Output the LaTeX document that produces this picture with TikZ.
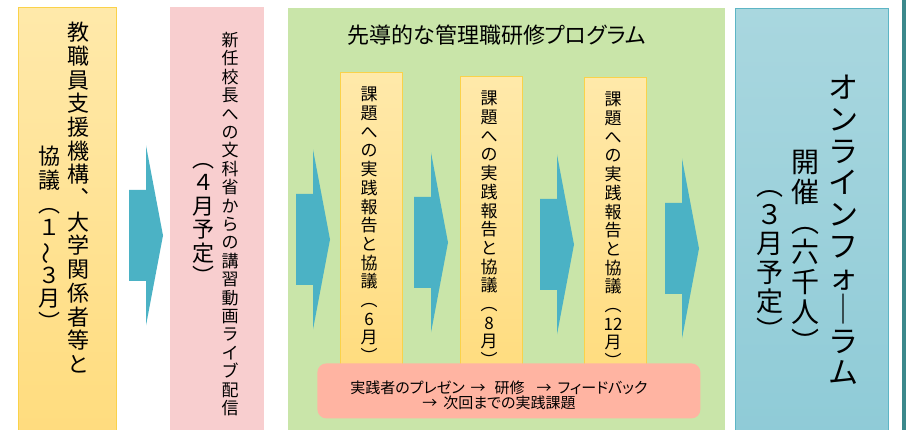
\documentclass[tikz,border=0pt]{standalone}
\usepackage{fontspec}
\usepackage{graphicx}
\setmainfont{Noto Sans CJK JP}
\newfontfamily\propfont[RawFeature=+palt]{Noto Sans CJK JP}
\newcommand{\moji}[2]{\fontsize{#1pt}{#2pt}\selectfont}
\definecolor{kiiroA}{HTML}{FFE9AA}
\definecolor{kiiroB}{HTML}{FFDC7E}
\definecolor{kiiroSen}{HTML}{FAD24A}
\definecolor{momo}{HTML}{F8CECF}
\definecolor{midori}{HTML}{C9E5A9}
\definecolor{yaji}{HTML}{4BB2C5}
\definecolor{sake}{HTML}{FFB4A2}
\definecolor{aoA}{HTML}{A9D7DF}
\definecolor{aoB}{HTML}{8FCBD7}
\definecolor{aoSen}{HTML}{5DB5C5}
\definecolor{fuchi}{HTML}{3C898C}
\tikzset{
  hako/.style={inner sep=0pt, anchor=north west, line width=0.8pt},
  tate/.style={inner sep=0pt, align=center, anchor=north},
  pics/yajirushi/.style={code={
    \fill[yaji] (0,-45.5) -- (17,-45.5) -- (17,-90) -- (34,0) -- (17,90) -- (17,45.5) -- (0,45.5) -- cycle;}}
}
\begin{document}
\begin{tikzpicture}[x=1pt, y=-1pt]
  \useasboundingbox (0,0) rectangle (906,430);
  \clip (0,0) rectangle (906,430);
  % 左の箱
  \node[hako, top color=kiiroA, bottom color=kiiroB, draw=kiiroSen, minimum width=98pt, minimum height=426pt] (kikou) at (18,7) {};
  \node[tate, font=\moji{22}{23.7}] (kikouA) at (78,22) {教\\職\\員\\支\\援\\機\\構\\︑\\大\\学\\関\\係\\者\\等\\と};
  \node[tate, font=\moji{22}{23.7}] (kikouB) at (49,146) {協\\議\\︵\\１\\\smash{\rotatebox[origin=c]{90}{～}}\\３\\月\\︶};
  \node[hako, fill=momo, minimum width=94pt, minimum height=426pt] (mext) at (170,7) {};
  \node[tate, font=\moji{17}{18.4}] (mextA) at (230,32) {新\\任\\校\\長\\へ\\の\\文\\科\\省\\か\\ら\\の\\講\\習\\動\\画\\ラ\\イ\\ブ\\配\\信};
  \node[tate, font=\moji{22}{23.5}] (mextB) at (203,163) {︵\\４\\月\\予\\定\\︶};
  % 研修プログラム
  \node[hako, fill=midori, minimum width=437pt, minimum height=425pt] (kenshu) at (288,8) {};
  \node[font=\propfont\moji{22}{24}, inner sep=0pt] (title) at (496.5,35) {先導的な管理職研修プログラム};
  \foreach \x/\y/\m [count=\i] in {340/72/6, 460/76/8, 584/77/12}{
    \node[hako, top color=kiiroA, bottom color=kiiroB, draw=kiiroSen, minimum width=62pt, minimum height=300pt] (kadai\i) at (\x,\y) {};
    \node[tate, font=\moji{17}{18.7}] (kadaiText\i) at ([xshift=29pt, yshift=-15pt]kadai\i.north west) {課\\題\\へ\\の\\実\\践\\報\\告\\と\\協\\議\\︵\\\m\\月\\︶};
  }
  \foreach \x/\y in {129/235.5, 296/239.5, 414/242.5, 540/244.5, 665/248.5}
    \pic at (\x,\y) {yajirushi};
  \node[hako, fill=sake, rounded corners=9pt, minimum width=383pt, minimum height=55pt] (matome) at (317,363) {};
  \node[align=center, inner sep=0pt, font=\propfont\moji{15}{13.5}] (nagare) at (499,395) {実践者のプレゼン\hspace{6pt}→\hspace{9pt}研修\hspace{12pt}→\hspace{6pt}フィードバック\\→\hspace{6pt}次回までの実践課題};
  % フォーラム
  \node[hako, top color=aoA, bottom color=aoB, draw=aoSen, minimum width=153pt, minimum height=425pt] (forum) at (735,8) {};
  \node[tate, font=\moji{30}{31.7}] (forumA) at (843,75) {オ\\ン\\ラ\\イ\\ン\\フ\\ォ\\｜\\ラ\\ム};
  \node[tate, font=\moji{28}{30}] (forumB) at (805,150) {開\\催\\︵\\六\\千\\人\\︶};
  \node[tate, font=\moji{27}{29}] (forumC) at (770,190) {︵\\３\\月\\予\\定\\︶};
  \fill[fuchi] (902,0) rectangle (906,430);
\end{tikzpicture}
\end{document}
